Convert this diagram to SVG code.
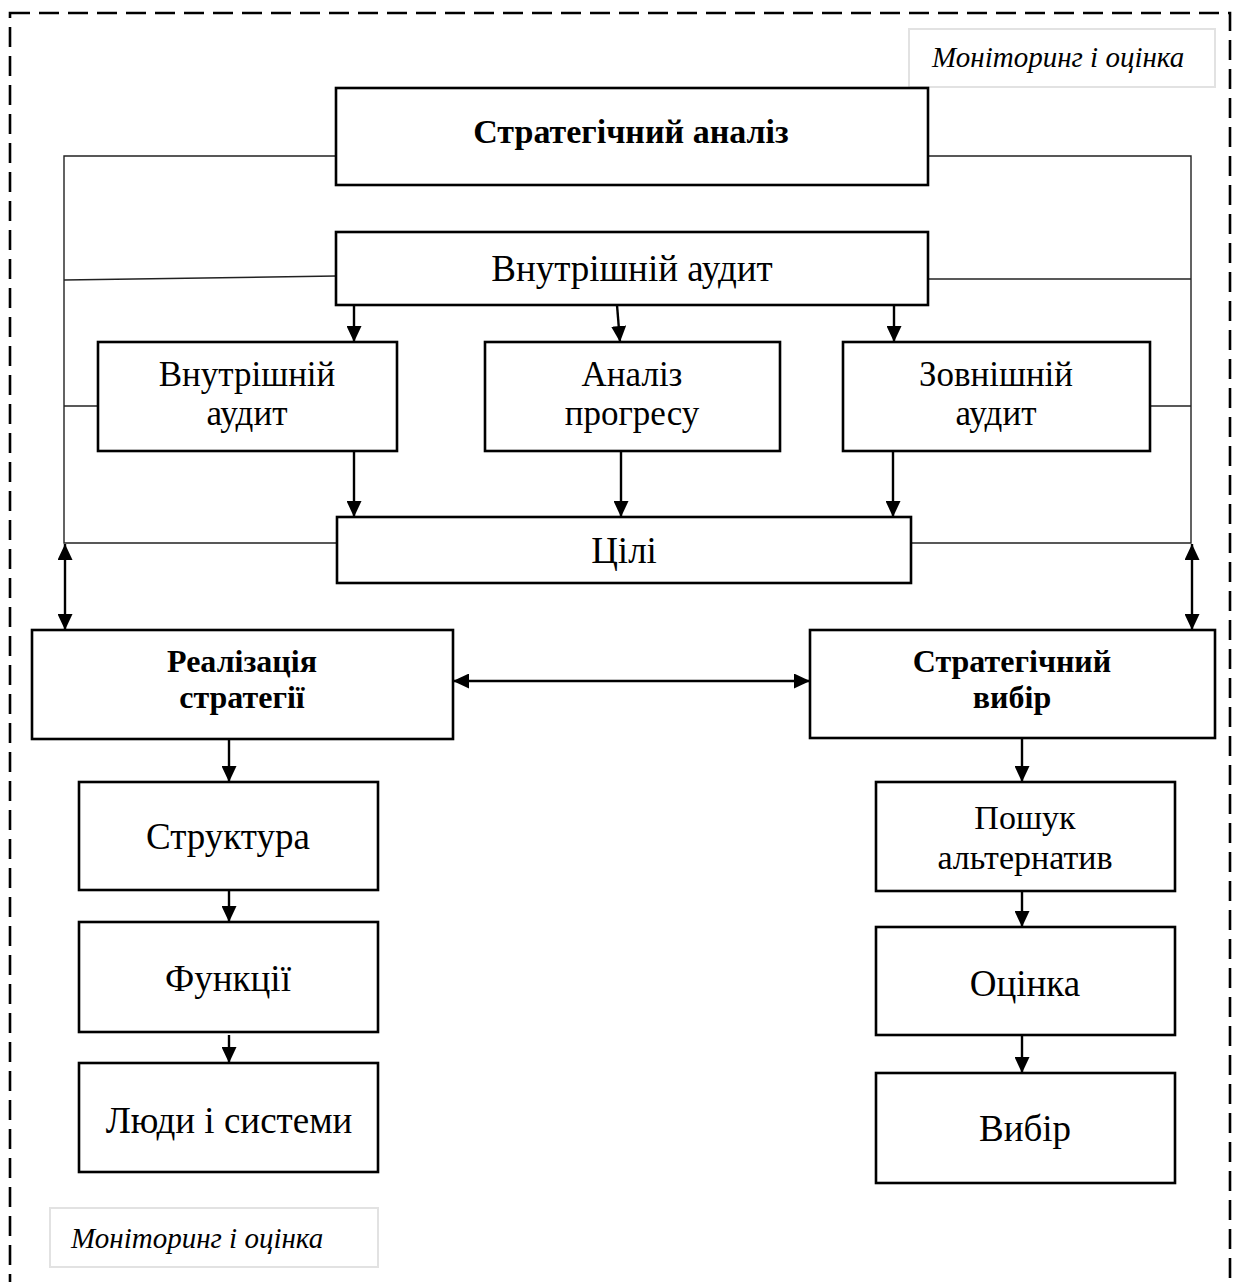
<svg xmlns="http://www.w3.org/2000/svg" width="1240" height="1282" viewBox="0 0 1240 1282">
  <defs>
    <marker id="arrow" viewBox="0 0 16 15" refX="16" refY="7.5" markerWidth="16" markerHeight="15" markerUnits="userSpaceOnUse" orient="auto-start-reverse">
      <path d="M0,0 L16,7.5 L0,15 z" fill="#000"/>
    </marker>
    <style>
      .frame { fill: none; stroke: #000; stroke-width: 2.6; stroke-dasharray: 20 9; }
      .box { fill: #fff; stroke: #000; stroke-width: 2.6; }
      .tag { fill: #fff; stroke: #e2e2e2; stroke-width: 2; }
      .link { fill: none; stroke: #222; stroke-width: 1.4; }
      .flow { fill: none; stroke: #000; stroke-width: 2.4; }
      text { font-family: "Liberation Serif", "Times New Roman", serif; fill: #000; text-anchor: middle; }
      .b { font-weight: bold; }
      .it { font-style: italic; text-anchor: start; font-size: 29px; }
    </style>
  </defs>

  <rect width="1240" height="1282" fill="#fff"/>

  <!-- dashed monitoring frame (bottom edge runs past the page) -->
  <rect class="frame" x="10" y="13" width="1220" height="1320"/>

  <!-- connectors -->
  <g id="connectors">
    <!-- side rails -->
    <polyline class="link" points="336,156 64,156 64,543 337,543"/>
    <polyline class="link" points="928,156 1191,156 1191,543 911,543"/>
    <line class="link" x1="64" y1="280" x2="336" y2="276"/>
    <line class="link" x1="928" y1="279" x2="1191" y2="279"/>
    <line class="link" x1="64" y1="406" x2="98" y2="406"/>
    <line class="link" x1="1150" y1="406" x2="1191" y2="406"/>

    <!-- audit to the three analyses -->
    <line class="flow" x1="354" y1="305" x2="354" y2="342" marker-end="url(#arrow)"/>
    <line class="flow" x1="617" y1="305" x2="620" y2="342" marker-end="url(#arrow)"/>
    <line class="flow" x1="894" y1="305" x2="894" y2="342" marker-end="url(#arrow)"/>

    <!-- analyses to goals -->
    <line class="flow" x1="354" y1="451" x2="354" y2="517" marker-end="url(#arrow)"/>
    <line class="flow" x1="621" y1="451" x2="621" y2="517" marker-end="url(#arrow)"/>
    <line class="flow" x1="893" y1="451" x2="893" y2="517" marker-end="url(#arrow)"/>

    <!-- two-way links -->
    <line class="flow" x1="65" y1="544" x2="65" y2="630" marker-start="url(#arrow)" marker-end="url(#arrow)"/>
    <line class="flow" x1="1192" y1="544" x2="1192" y2="630" marker-start="url(#arrow)" marker-end="url(#arrow)"/>
    <line class="flow" x1="453" y1="681" x2="810" y2="681" marker-start="url(#arrow)" marker-end="url(#arrow)"/>

    <!-- implementation chain -->
    <line class="flow" x1="229" y1="739" x2="229" y2="782" marker-end="url(#arrow)"/>
    <line class="flow" x1="229" y1="890" x2="229" y2="922" marker-end="url(#arrow)"/>
    <line class="flow" x1="229" y1="1035" x2="229" y2="1063" marker-end="url(#arrow)"/>

    <!-- choice chain -->
    <line class="flow" x1="1022" y1="738" x2="1022" y2="782" marker-end="url(#arrow)"/>
    <line class="flow" x1="1022" y1="891" x2="1022" y2="927" marker-end="url(#arrow)"/>
    <line class="flow" x1="1022" y1="1035" x2="1022" y2="1073" marker-end="url(#arrow)"/>
  </g>

  <!-- labels on the frame -->
  <g id="tag-top">
    <rect class="tag" x="909" y="29" width="306" height="58"/>
    <text class="it" x="932" y="67">Моніторинг і оцінка</text>
  </g>
  <g id="tag-bottom">
    <rect class="tag" x="50" y="1208" width="328" height="59"/>
    <text class="it" x="71" y="1248">Моніторинг і оцінка</text>
  </g>

  <!-- nodes -->
  <g id="strategic-analysis">
    <rect class="box" x="336" y="88" width="592" height="97"/>
    <text class="b" x="631" y="143" font-size="34">Стратегічний аналіз</text>
  </g>
  <g id="audit-main">
    <rect class="box" x="336" y="232" width="592" height="73"/>
    <text x="632" y="281" font-size="37">Внутрішній аудит</text>
  </g>
  <g id="audit-internal">
    <rect class="box" x="98" y="342" width="299" height="109"/>
    <text x="247" y="386" font-size="35">Внутрішній</text>
    <text x="247" y="425" font-size="35">аудит</text>
  </g>
  <g id="progress">
    <rect class="box" x="485" y="342" width="295" height="109"/>
    <text x="632" y="386" font-size="35">Аналіз</text>
    <text x="632" y="425" font-size="35">прогресу</text>
  </g>
  <g id="audit-external">
    <rect class="box" x="843" y="342" width="307" height="109"/>
    <text x="996" y="386" font-size="35">Зовнішній</text>
    <text x="996" y="425" font-size="35">аудит</text>
  </g>
  <g id="goals">
    <rect class="box" x="337" y="517" width="574" height="66"/>
    <text x="624" y="563" font-size="37">Цілі</text>
  </g>
  <g id="implementation">
    <rect class="box" x="32" y="630" width="421" height="109"/>
    <text class="b" x="242" y="672" font-size="32">Реалізація</text>
    <text class="b" x="242" y="708" font-size="32">стратегії</text>
  </g>
  <g id="choice">
    <rect class="box" x="810" y="630" width="405" height="108"/>
    <text class="b" x="1012" y="672" font-size="32">Стратегічний</text>
    <text class="b" x="1012" y="708" font-size="32">вибір</text>
  </g>
  <g id="structure">
    <rect class="box" x="79" y="782" width="299" height="108"/>
    <text x="228" y="849" font-size="37">Структура</text>
  </g>
  <g id="functions">
    <rect class="box" x="79" y="922" width="299" height="110"/>
    <text x="228" y="991" font-size="37">Функції</text>
  </g>
  <g id="people">
    <rect class="box" x="79" y="1063" width="299" height="109"/>
    <text x="229" y="1133" font-size="37">Люди і системи</text>
  </g>
  <g id="alternatives">
    <rect class="box" x="876" y="782" width="299" height="109"/>
    <text x="1025" y="829" font-size="34">Пошук</text>
    <text x="1025" y="869" font-size="34">альтернатив</text>
  </g>
  <g id="evaluation">
    <rect class="box" x="876" y="927" width="299" height="108"/>
    <text x="1025" y="996" font-size="37">Оцінка</text>
  </g>
  <g id="selection">
    <rect class="box" x="876" y="1073" width="299" height="110"/>
    <text x="1025" y="1141" font-size="37">Вибір</text>
  </g>
</svg>
